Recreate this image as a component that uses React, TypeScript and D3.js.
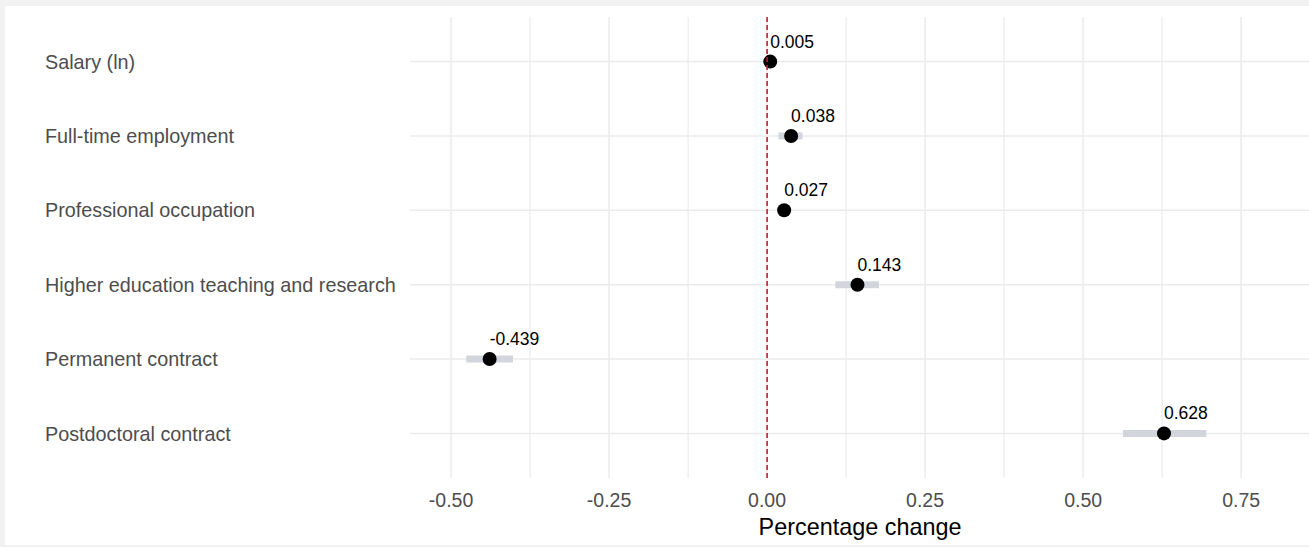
import React, { useEffect, useRef } from 'react';
import * as d3 from 'd3';

const categories = [
  'Salary (ln)',
  'Full-time employment',
  'Professional occupation',
  'Higher education teaching and research',
  'Permanent contract',
  'Postdoctoral contract',
];
const estimates = [0.005, 0.038, 0.027, 0.143, -0.439, 0.628];
const ciLow = [0.002, 0.018, 0.018, 0.108, -0.476, 0.563];
const ciHigh = [0.008, 0.056, 0.036, 0.177, -0.402, 0.695];
const xTicks = [-0.5, -0.25, 0, 0.25, 0.5, 0.75];
const xMinorTicks = [-0.375, -0.125, 0.125, 0.375, 0.625];

// ascii hyphen for negatives, like the original
const fmt = (spec: string) => (v: number) => d3.format(spec)(v).replace('\u2212', '-');

const App = () => {
  const ref = useRef<SVGSVGElement>(null);

  useEffect(() => {
    const W = 1309;
    const H = 547;
    const panel = { left: 410, right: 1310, top: 17, bottom: 478 };
    const font = 'Liberation Sans, Arial, sans-serif';

    const svg = d3.select(ref.current);
    svg.selectAll('*').remove();

    // frame
    svg.append('rect').attr('width', W).attr('height', H).attr('fill', '#f2f2f2');
    svg.append('rect').attr('x', 5).attr('y', 6).attr('width', W - 5).attr('height', H - 8).attr('fill', '#fff');

    const x = d3
      .scaleLinear()
      .domain([-0.565, 0.859])
      .range([panel.left, panel.right]);

    const y = d3
      .scalePoint<string>()
      .domain(categories)
      .range([panel.top, panel.bottom])
      .padding(0.6);

    const grid = svg.append('g').attr('stroke', '#ebebeb').attr('stroke-width', 1.5);

    grid
      .selectAll('.minor')
      .data(xMinorTicks)
      .enter()
      .append('line')
      .attr('stroke-width', 1.2)
      .attr('x1', (d) => x(d))
      .attr('x2', (d) => x(d))
      .attr('y1', panel.top)
      .attr('y2', panel.bottom);

    grid
      .selectAll('.major')
      .data(xTicks)
      .enter()
      .append('line')
      .attr('x1', (d) => x(d))
      .attr('x2', (d) => x(d))
      .attr('y1', panel.top)
      .attr('y2', panel.bottom);

    grid
      .selectAll('.hmajor')
      .data(categories)
      .enter()
      .append('line')
      .attr('x1', panel.left)
      .attr('x2', panel.right)
      .attr('y1', (d) => y(d)!)
      .attr('y2', (d) => y(d)!);

    // y labels
    svg
      .append('g')
      .selectAll('text')
      .data(categories)
      .enter()
      .append('text')
      .attr('x', 45)
      .attr('y', (d) => y(d)!)
      .attr('dy', '0.36em')
      .attr('font-family', font)
      .attr('font-size', 19.8)
      .attr('fill', '#4d4d4d')
      .text((d) => d);

    // x tick labels
    svg
      .append('g')
      .selectAll('text')
      .data(xTicks)
      .enter()
      .append('text')
      .attr('x', (d) => x(d))
      .attr('y', 507)
      .attr('text-anchor', 'middle')
      .attr('font-family', font)
      .attr('font-size', 19.5)
      .attr('fill', '#4d4d4d')
      .text((d) => fmt('.2f')(d));

    svg
      .append('text')
      .attr('x', (panel.left + panel.right) / 2)
      .attr('y', 535)
      .attr('text-anchor', 'middle')
      .attr('font-family', font)
      .attr('font-size', 23.4)
      .attr('fill', '#000')
      .text('Percentage change');

    // confidence bars
    svg
      .append('g')
      .selectAll('line')
      .data(categories)
      .enter()
      .append('line')
      .attr('x1', (d, i) => x(ciLow[i]))
      .attr('x2', (d, i) => x(ciHigh[i]))
      .attr('y1', (d) => y(d)!)
      .attr('y2', (d) => y(d)!)
      .attr('stroke', '#d2d6dc')
      .attr('stroke-width', 7);

    // points
    svg
      .append('g')
      .selectAll('circle')
      .data(categories)
      .enter()
      .append('circle')
      .attr('cx', (d, i) => x(estimates[i]))
      .attr('cy', (d) => y(d)!)
      .attr('r', 7)
      .attr('fill', '#000');

    // value labels
    svg
      .append('g')
      .selectAll('text')
      .data(categories)
      .enter()
      .append('text')
      .attr('x', (d, i) => x(estimates[i]))
      .attr('y', (d) => y(d)! - 14)
      .attr('font-family', font)
      .attr('font-size', 17.5)
      .attr('fill', '#000')
      .text((d, i) => fmt('.3f')(estimates[i]));

    // null line
    svg
      .append('line')
      .attr('x1', x(0))
      .attr('x2', x(0))
      .attr('y1', panel.top)
      .attr('y2', panel.bottom)
      .attr('stroke', '#c0202a')
      .attr('stroke-width', 1.6)
      .attr('stroke-dasharray', '5,3');
  }, []);

  return (
    <svg
      ref={ref}
      width={1309}
      height={547}
      style={{ position: 'absolute', left: 0, top: 0 }}
    ></svg>
  );
};

export default App;
